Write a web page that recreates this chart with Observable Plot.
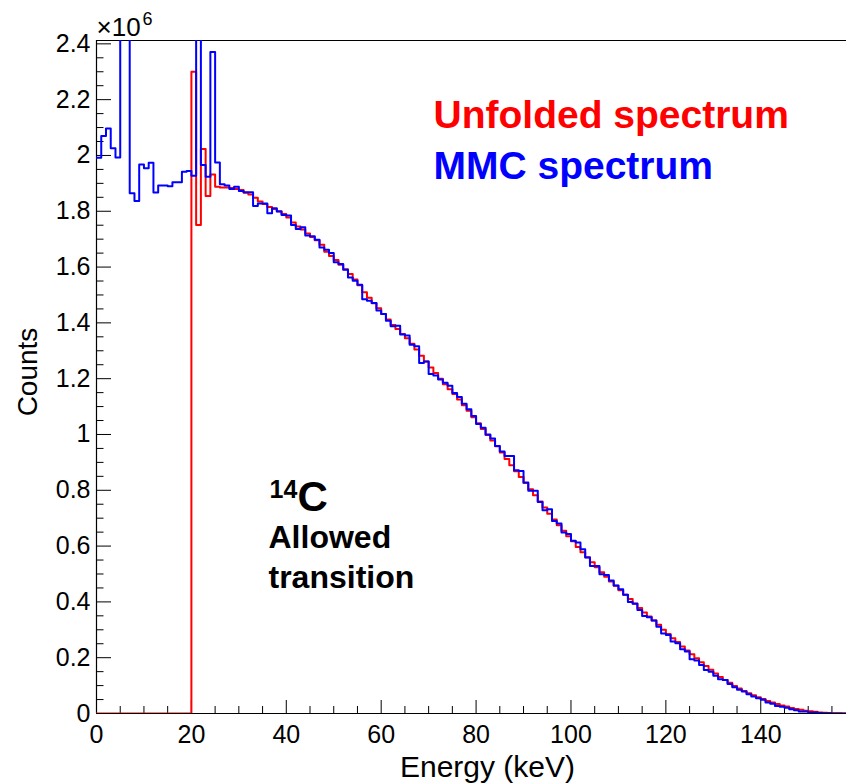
<!DOCTYPE html>
<html><head><meta charset="utf-8">
<script src="https://cdn.jsdelivr.net/npm/d3@7"></script>
<script src="https://cdn.jsdelivr.net/npm/@observablehq/plot@0.6"></script>
<style>body{margin:0;background:#fff} #chart{width:846px;height:784px}</style>
</head><body><div id="chart"></div>
<script>
// Energy bins: 1 keV wide, low edges 0..157 keV
const binLowEdges = d3.range(0, 158);
const lastEdge = 158;

// MMC spectrum (counts, x10^6)
const mmcCounts = [
  1.992, 2.070, 2.097, 2.026, 1.993, 2.900, 3.400, 1.865, 1.837, 1.968,
  1.954, 1.974, 1.867, 1.892, 1.892, 1.890, 1.904, 1.904, 1.942, 1.944,
  1.927, 3.000, 1.966, 1.924, 2.371, 1.975, 1.897, 1.892, 1.880, 1.888,
  1.873, 1.868, 1.868, 1.819, 1.828, 1.828, 1.793, 1.811, 1.799, 1.787,
  1.785, 1.751, 1.736, 1.743, 1.713, 1.710, 1.698, 1.670, 1.662, 1.650,
  1.617, 1.611, 1.590, 1.563, 1.551, 1.537, 1.485, 1.479, 1.471, 1.444,
  1.432, 1.408, 1.388, 1.390, 1.358, 1.355, 1.322, 1.316, 1.256, 1.262,
  1.217, 1.211, 1.197, 1.185, 1.175, 1.149, 1.134, 1.110, 1.090, 1.066,
  1.038, 1.024, 1.000, 0.986, 0.959, 0.939, 0.923, 0.923, 0.872, 0.869,
  0.828, 0.798, 0.798, 0.758, 0.728, 0.732, 0.690, 0.681, 0.649, 0.643,
  0.619, 0.613, 0.589, 0.559, 0.529, 0.529, 0.499, 0.496, 0.477, 0.459,
  0.445, 0.426, 0.400, 0.393, 0.371, 0.349, 0.345, 0.333, 0.311, 0.287,
  0.281, 0.258, 0.252, 0.230, 0.222, 0.194, 0.190, 0.174, 0.156, 0.150,
  0.135, 0.123, 0.120, 0.106, 0.094, 0.085, 0.079, 0.069, 0.061, 0.055,
  0.049, 0.039, 0.035, 0.027, 0.024, 0.021, 0.015, 0.012, 0.007, 0.007,
  0.004, 0.004, 0.002, 0.001, 0.0005, 0, 0, 0
];

// Unfolded spectrum (counts, x10^6)
const unfoldedCounts = [
  0, 0, 0, 0, 0, 0, 0, 0, 0, 0,
  0, 0, 0, 0, 0, 0, 0, 0, 0, 0,
  2.300, 1.751, 2.023, 1.855, 1.932, 1.888, 1.885, 1.885, 1.883, 1.880,
  1.876, 1.866, 1.860, 1.848, 1.835, 1.826, 1.815, 1.808, 1.800, 1.790,
  1.778, 1.760, 1.745, 1.735, 1.720, 1.708, 1.696, 1.680, 1.655, 1.640,
  1.625, 1.608, 1.592, 1.575, 1.555, 1.535, 1.510, 1.490, 1.470, 1.452,
  1.432, 1.412, 1.392, 1.378, 1.360, 1.345, 1.325, 1.305, 1.282, 1.262,
  1.240, 1.220, 1.200, 1.180, 1.162, 1.145, 1.125, 1.105, 1.085, 1.062,
  1.040, 1.020, 0.998, 0.978, 0.958, 0.935, 0.912, 0.890, 0.868, 0.848,
  0.826, 0.804, 0.782, 0.760, 0.738, 0.716, 0.695, 0.675, 0.655, 0.635,
  0.617, 0.597, 0.578, 0.560, 0.542, 0.524, 0.506, 0.490, 0.473, 0.458,
  0.442, 0.426, 0.410, 0.394, 0.378, 0.362, 0.348, 0.333, 0.318, 0.300,
  0.285, 0.270, 0.256, 0.240, 0.226, 0.212, 0.198, 0.184, 0.170, 0.157,
  0.143, 0.131, 0.120, 0.110, 0.099, 0.090, 0.081, 0.073, 0.065, 0.058,
  0.052, 0.045, 0.039, 0.034, 0.029, 0.025, 0.020, 0.016, 0.013, 0.010,
  0.008, 0.006, 0.004, 0.003, 0.002, 0.001, 0.001, 0
];

// Axis ticks
const xMajorTicks = [0, 20, 40, 60, 80, 100, 120, 140];
const xMinorTicks = [5, 10, 15, 25, 30, 35, 45, 50, 55, 65, 70, 75, 85, 90, 95, 105, 110, 115, 125, 130, 135, 145, 150, 155];
const yMajorTicks = [0, 0.2, 0.4, 0.6, 0.8, 1, 1.2, 1.4, 1.6, 1.8, 2, 2.2, 2.4];
const yMinorTicks = [0.05, 0.1, 0.15, 0.25, 0.3, 0.35, 0.45, 0.5, 0.55, 0.65, 0.7, 0.75, 0.85, 0.9, 0.95,
  1.05, 1.1, 1.15, 1.25, 1.3, 1.35, 1.45, 1.5, 1.55, 1.65, 1.7, 1.75, 1.85, 1.9, 1.95, 2.05, 2.1, 2.15, 2.25, 2.3, 2.35];

const xMax = 158.07;
const yMax = 2.412;

function steps(values) {
  const t = binLowEdges.map((e, i) => ({x: e, y: values[i]}));
  t.push({x: lastEdge, y: values[values.length - 1]});
  return t;
}

const W = 846, H = 784, mL = 96, mR = 0, mT = 40, mB = 71;
const fw = W - mL - mR, fh = H - mT - mB;
const font = "'Liberation Sans', Arial, Helvetica, sans-serif";

const chart = Plot.plot({
  width: W, height: H,
  marginLeft: mL, marginRight: mR, marginTop: mT, marginBottom: mB,
  x: {domain: [0, xMax]},
  y: {domain: [0, yMax]},
  style: {fontFamily: font, fontSize: "25px", background: "white", color: "black", overflow: "visible"},
  marks: [
    Plot.ruleX([0], {stroke: "black", strokeWidth: 1.2}),
    Plot.ruleY([0], {stroke: "black", strokeWidth: 1.2}),
    Plot.ruleY([yMax], {stroke: "black", strokeWidth: 1}),
    Plot.tickY(yMajorTicks, {y: d => d, insetRight: fw - 15, stroke: "black"}),
    Plot.tickY(yMinorTicks, {y: d => d, insetRight: fw - 7.5, stroke: "black"}),
    Plot.tickX(xMajorTicks, {x: d => d, insetTop: fh - 13, stroke: "black"}),
    Plot.tickX(xMinorTicks, {x: d => d, insetTop: fh - 7, stroke: "black"}),
    Plot.axisY({ticks: yMajorTicks, tickSize: 0, tickPadding: 6, tickFormat: d => d3.format("~g")(d), label: null}),
    Plot.axisX({ticks: xMajorTicks, tickSize: 0, tickPadding: 12, tickFormat: d => String(d), label: null}),
    Plot.line(steps(unfoldedCounts), {x: "x", y: "y", curve: "step-after", stroke: "#ff0000", strokeWidth: 2, clip: true}),
    Plot.line(steps(mmcCounts), {x: "x", y: "y", curve: "step-after", stroke: "#0000ff", strokeWidth: 2, clip: true}),
    // axis titles
    Plot.text(["Counts"], {frameAnchor: "left", dx: -68, dy: -5, rotate: -90, fontSize: 28, textAnchor: "middle", lineAnchor: "middle"}),
    Plot.text(["Energy (keV)"], {frameAnchor: "bottom", dx: 16, dy: 63, fontSize: 30, textAnchor: "middle", lineAnchor: "bottom"}),
    // exponent
    Plot.text(["×10"], {frameAnchor: "top-left", dx: 0, dy: -5, fontSize: 26, textAnchor: "start", lineAnchor: "bottom"}),
    Plot.text(["6"], {frameAnchor: "top-left", dx: 46, dy: -16, fontSize: 18, textAnchor: "start", lineAnchor: "bottom"}),
    // legend
    Plot.text(["Unfolded spectrum"], {frameAnchor: "top-left", dx: 337, dy: 87, fontSize: 39, fontWeight: "bold", fill: "#ff0000", textAnchor: "start", lineAnchor: "bottom"}),
    Plot.text(["MMC spectrum"], {frameAnchor: "top-left", dx: 337, dy: 138, fontSize: 39, fontWeight: "bold", fill: "#0000ff", textAnchor: "start", lineAnchor: "bottom"}),
    // annotation
    Plot.text(["14"], {frameAnchor: "top-left", dx: 173, dy: 457, fontSize: 25, fontWeight: "bold", textAnchor: "start", lineAnchor: "bottom"}),
    Plot.text(["C"], {frameAnchor: "top-left", dx: 201, dy: 470, fontSize: 42, fontWeight: "bold", textAnchor: "start", lineAnchor: "bottom"}),
    Plot.text(["Allowed"], {frameAnchor: "top-left", dx: 172, dy: 507, fontSize: 32, fontWeight: "bold", textAnchor: "start", lineAnchor: "bottom"}),
    Plot.text(["transition"], {frameAnchor: "top-left", dx: 172, dy: 547, fontSize: 32, fontWeight: "bold", textAnchor: "start", lineAnchor: "bottom"})
  ]
});
document.getElementById("chart").appendChild(chart);
</script>
</body></html>
